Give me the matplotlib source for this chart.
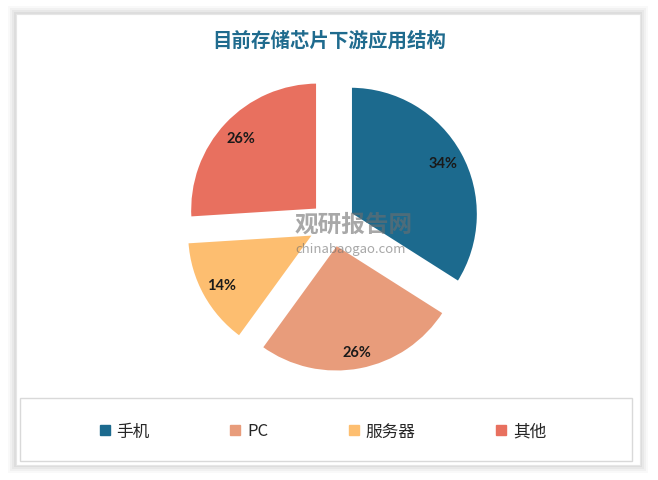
import matplotlib
matplotlib.use("Agg")
import matplotlib.pyplot as plt
from matplotlib.patches import Rectangle
from matplotlib.lines import Line2D
import numpy as np

plt.rcParams['font.family'] = ['Noto Sans CJK SC', 'DejaVu Sans']

title = "目前存储芯片下游应用结构"
categories = ["手机", "PC", "服务器", "其他"]
values = [34, 26, 14, 26]
colors = ["#1C6A8E", "#E89C7B", "#FDBE70", "#E8705F"]

W, H = 658, 481
fig = plt.figure(figsize=(W / 100, H / 100), dpi=100)
fig.patch.set_facecolor("white")

# soft shadow + white panel
for i, a in enumerate([0.025, 0.03, 0.035, 0.045]):
    g = 8 - 2 * i
    fig.patches.append(Rectangle(((16 - g) / W, (15 - g) / H), (624 + 2 * g) / W, (451 + 2 * g) / H,
                                 transform=fig.transFigure, facecolor="black", alpha=a,
                                 edgecolor="none", zorder=0))
fig.patches.append(Rectangle((16 / W, 15 / H), 624 / W, 451 / H, transform=fig.transFigure,
                             facecolor="white", edgecolor="#e6e6e6", lw=0.8, zorder=1))
# legend frame
fig.patches.append(Rectangle((20 / W, (H - 462) / H), 612 / W, 63 / H, transform=fig.transFigure,
                             facecolor="white", edgecolor="#d9d9d9", lw=1.0, zorder=2))

fig.text(329.5 / W, 1 - 41 / H, title, ha="center", va="center", fontsize=14, fontweight="bold",
         color="#1F6B8E", zorder=5)

# pie axes
cx, cy, r = 332.5, 225, 123
lim = 1.3
side = 2 * lim * r
ax = fig.add_axes([(cx - side / 2) / W, (H - cy - side / 2) / H, side / W, side / H], zorder=3)
ax.set_xlim(-lim, lim)
ax.set_ylim(-lim, lim)
ax.set_aspect("equal")
ax.axis("off")

explode = [0.16] * len(values)
wedges, texts, autotexts = ax.pie(values, colors=colors, startangle=90, counterclock=False,
                                  explode=explode, autopct=lambda p: f"{p:.0f}%",
                                  pctdistance=0.83,
                                  wedgeprops=dict(edgecolor="white", linewidth=2.2),
                                  textprops=dict(fontsize=10.5, fontweight="bold", color="#1a1a1a"))
dists = [0.83, 0.86, 0.83, 0.82]
for w, t, d in zip(wedges, autotexts, dists):
    ang = np.deg2rad((w.theta1 + w.theta2) / 2)
    cxw, cyw = w.center
    t.set_position((cxw + d * np.cos(ang), cyw + d * np.sin(ang)))
    t.set_family(["Lato", "DejaVu Sans"])

# watermark
fig.text(354 / W, 1 - 225 / H, "观研报告网", ha="center", va="center", fontsize=17,
         fontweight="bold", color="#6e6e6e", alpha=0.6, zorder=6)
fig.text(351 / W, 1 - 250 / H, "chinabaogao.com", ha="center", va="center", fontsize=9.5,
         color="#6e6e6e", alpha=0.6, zorder=6)

handles = [Line2D([0], [0], marker="s", linestyle="none", markersize=6.5,
                  markerfacecolor=c, markeredgecolor=c) for c in colors]
leg = fig.legend(handles, categories, ncol=4, loc="center left",
                 bbox_to_anchor=(99.5 / W, 1 - 432 / H), frameon=False, fontsize=12,
                 columnspacing=4.85, handletextpad=0.4, handlelength=0.6,
                 borderpad=0, borderaxespad=0)
for t in leg.get_texts():
    t.set_color("#262626")
leg.set_zorder(7)

fig.savefig("out.png", dpi=100)
